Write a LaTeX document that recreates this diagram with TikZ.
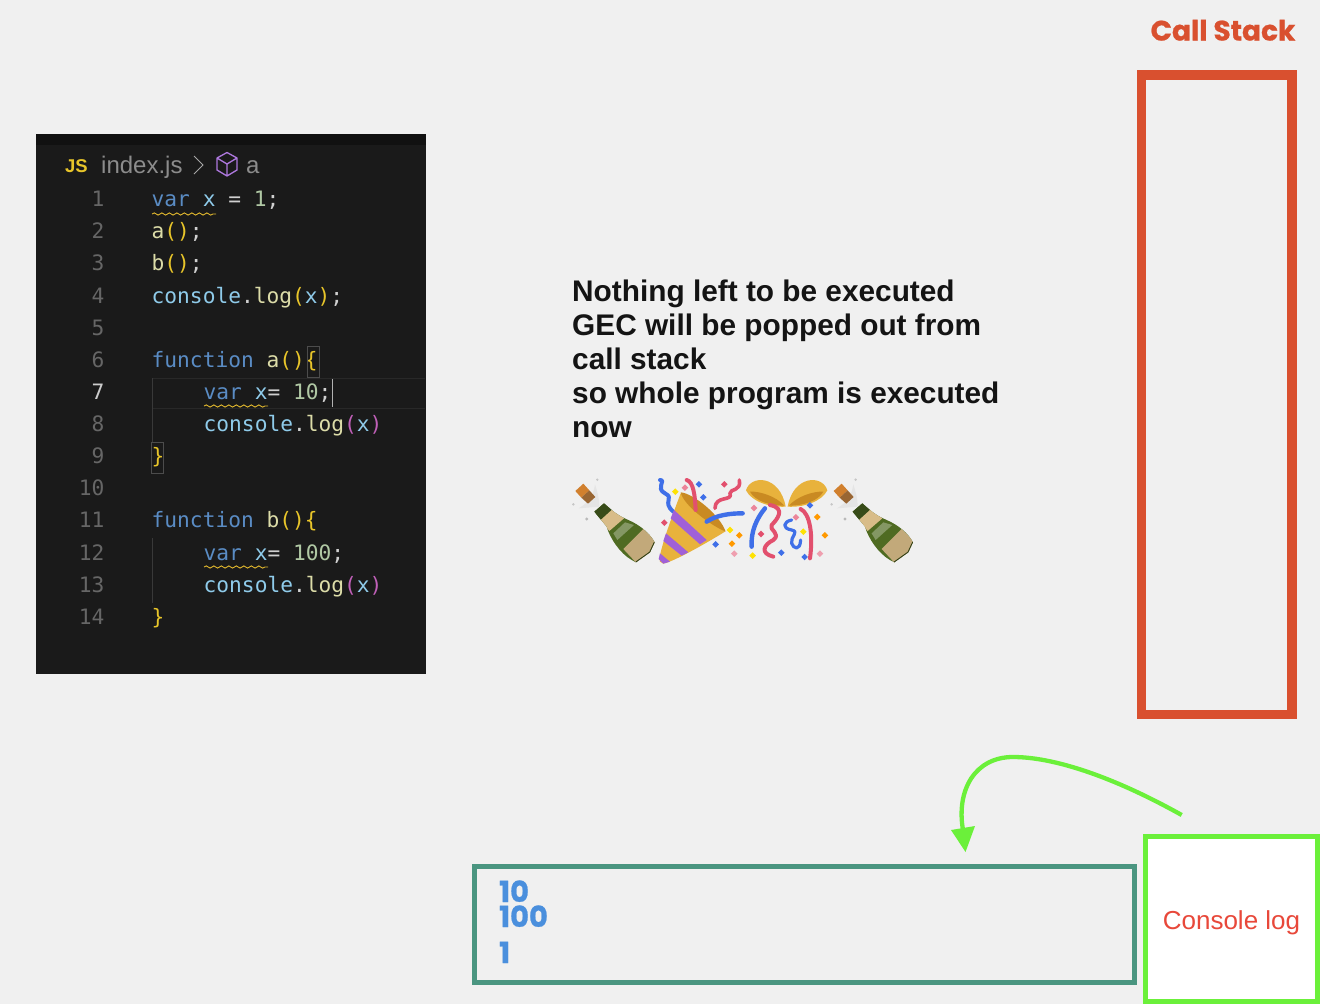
\documentclass[tikz,border=0pt]{standalone}
\usepackage{fontspec}
\setmainfont{Liberation Sans}
\newfontfamily\codefont{DejaVu Sans Mono}
\newfontfamily\roundfont[FakeBold=0.8]{Poppins}
\usetikzlibrary{arrows.meta,decorations.pathmorphing}
\definecolor{bgc}{HTML}{F0F0F0}
\definecolor{edc}{HTML}{1A1A1A}
\definecolor{topc}{HTML}{111111}
\definecolor{stackc}{HTML}{D9502F}
\definecolor{tealc}{HTML}{4A9580}
\definecolor{limec}{HTML}{6BF03A}
\definecolor{logc}{HTML}{E8483A}
\definecolor{numc}{HTML}{4A8FDD}
\definecolor{kw}{HTML}{5A8CC4}
\definecolor{vr}{HTML}{8FCBEA}
\definecolor{fn}{HTML}{DCDCA8}
\definecolor{lit}{HTML}{B0C8A4}
\definecolor{pun}{HTML}{D0D0D0}
\definecolor{brk}{HTML}{E8C52A}
\definecolor{brp}{HTML}{C060B8}
\definecolor{ln}{HTML}{666666}
\definecolor{gld}{HTML}{E8B23C}
\definecolor{gldd}{HTML}{C98A22}
\definecolor{pur}{HTML}{A060D8}
\definecolor{bl}{HTML}{3F6FE8}
\definecolor{rd}{HTML}{E2506E}
\definecolor{bgreen}{HTML}{4F6B22}
\definecolor{bbeige}{HTML}{D8BC88}
\newcommand{\kwd}[1]{\textcolor{kw}{#1}}
\newcommand{\vrb}[1]{\textcolor{vr}{#1}}
\newcommand{\fnc}[1]{\textcolor{fn}{#1}}
\newcommand{\ltr}[1]{\textcolor{lit}{#1}}
\newcommand{\pnc}[1]{\textcolor{pun}{#1}}
\newcommand{\brc}[1]{\textcolor{brk}{#1}}
\newcommand{\brq}[1]{\textcolor{brp}{#1}}
\newcommand{\bottleart}[1]{%
 \begin{scope}[shift={(#1,0)}]
  \fill[gray!45] (112,44) circle (4);
  \fill[gray!55] (80,162) circle (5);
  \fill[gray!45] (40,118) circle (4);
  \fill[white!80!gray] (105,58) .. controls (100,90) and (90,110) .. (56,130) -- (118,125) .. controls (118,100) and (112,80) .. (105,58) -- cycle;
  \fill[brown!72!orange] (46,78) -- (70,56) -- (88,76) -- (64,98) -- cycle;
  \fill[brown!80!black] (64,98) -- (88,76) -- (106,96) -- (84,116) -- cycle;
  \begin{scope}
   \clip (103,140) -- (132,115) .. controls (155,135) and (170,150) .. (205,165) .. controls (240,180) and (270,205) .. (284,232) -- (270,262) -- (228,292) -- (215,285) .. controls (180,265) and (150,220) .. (140,185) .. controls (128,170) and (115,155) .. (103,140) -- cycle;
   \fill[bgreen] (90,100) rectangle (300,300);
   \fill[bgreen!70!black] (95,140) -- (135,105) -- (155,135) -- (122,165) -- cycle;
   \fill[bbeige] (122,165) -- (155,135) -- (192,160) -- (148,198) -- cycle;
   \fill[bgreen!70!white] (195,172) -- (222,180) -- (172,225) -- (160,205) -- cycle;
   \fill[bbeige!90!black] (190,252) -- (250,192) -- (295,235) -- (235,300) -- cycle;
   \draw[bgreen!55!black,line width=1.6pt] (284,232) -- (270,262) -- (228,292);
  \end{scope}
 \end{scope}}
\newcommand{\confetti}[3]{\fill[#3] (#1,#2-10) -- (#1+10,#2) -- (#1,#2+10) -- (#1-10,#2) -- cycle;}
\tikzset{
 code/.style={anchor=base west,inner sep=0pt,font=\codefont\fontsize{21.2}{24}\selectfont},
 lineno/.style={anchor=base east,inner sep=0pt,text=ln,font=\codefont\fontsize{21.2}{24}\selectfont},
 squig/.style={draw=brk!80!brown,line width=0.9pt,decorate,decoration={snake,amplitude=1.1pt,segment length=7.5pt}},
 guide/.style={draw=gray!45!black,line width=0.8pt},
 matchbox/.style={draw=gray!60!black,line width=0.8pt},
 outnum/.style={anchor=base west,inner sep=0pt,text=numc,font=\roundfont\bfseries\fontsize{29}{30}\selectfont},
 ribbon/.style={line width=#1,line cap=round,line join=round},
}
\begin{document}
\begin{tikzpicture}[x=1pt,y=-1pt]
\useasboundingbox (0,0) rectangle (1320,1004);
\fill[bgc] (0,0) rectangle (1320,1004);
% editor
\fill[edc] (36,134) rectangle (425.5,673.5);
\fill[topc] (36,134) rectangle (425.5,145);
\draw[edc!94!white,line width=0.8pt] (152,378) -- (425,378) (152,408) -- (425,408);
% breadcrumb
\node[anchor=base west,inner sep=0pt,text=brk,font=\bfseries\fontsize{18.5}{22}\selectfont] (js) at (65,172) {JS};
\node[anchor=base west,inner sep=0pt,text=gray!90,font=\fontsize{24}{26}\selectfont] (crumb) at (101,173) {index.js};
\draw[gray!70,line width=1pt] (194,156) -- (203,165) -- (194,174);
\draw[pur!85!white,line width=1.3pt,line join=round] (227,152.5) -- (237,158) -- (237,170) -- (227,176) -- (217,170) -- (217,158) -- cycle (217,158) -- (227,164) -- (237,158) (227,164) -- (227,176);
\node[anchor=base west,inner sep=0pt,text=gray!90,font=\fontsize{24}{26}\selectfont] (crumba) at (246,173) {a};
% line numbers
\foreach \n/\y in {1/206.5,2/238.5,3/270.5,4/303,5/335,6/367.5,8/431.5,9/463.5,10/495.5,11/527.5,12/560.5,13/592.5,14/624.5}
  \node[lineno] (n\n) at (104.5,\y) {\n};
\node[lineno,text=gray!40] (n7) at (104.5,399.5) {7};
% code
\node[code] (c1) at (151.5,206.5) {\kwd{var} \vrb{x} \pnc{=} \ltr{1}\pnc{;}};
\node[code] (c2) at (151.5,238.5) {\fnc{a}\brc{()}\pnc{;}};
\node[code] (c3) at (151.5,270.5) {\fnc{b}\brc{()}\pnc{;}};
\node[code] (c4) at (151.5,303) {\vrb{console}\pnc{.}\fnc{log}\brc{(}\vrb{x}\brc{)}\pnc{;}};
\node[code] (c6) at (151.5,367.5) {\kwd{function} \fnc{a}\brc{()\{}};
\node[code] (c7) at (203.5,399.5) {\kwd{var} \vrb{x}\pnc{=} \ltr{10}\pnc{;}};
\node[code] (c8) at (203.5,431.5) {\vrb{console}\pnc{.}\fnc{log}\brq{(}\vrb{x}\brq{)}};
\node[code] (c9) at (151.5,463.5) {\brc{\}}};
\node[code] (c11) at (151.5,527.5) {\kwd{function} \fnc{b}\brc{()\{}};
\node[code] (c12) at (203.5,560) {\kwd{var} \vrb{x}\pnc{=} \ltr{100}\pnc{;}};
\node[code] (c13) at (203.5,592) {\vrb{console}\pnc{.}\fnc{log}\brq{(}\vrb{x}\brq{)}};
\node[code] (c14) at (151.5,624.5) {\brc{\}}};
\draw[squig] (152,214) -- (216,214);
\draw[squig] (204,406) -- (268,406);
\draw[squig] (204,567) -- (268,567);
\draw[guide] (152,378) -- (152,442) (152,538) -- (152,603);
\draw[matchbox] (307,346.5) rectangle (319,377.5);
\draw[matchbox] (151.5,442) rectangle (163,473);
\draw[gray!60,line width=1.2pt] (332.5,379) -- (332.5,407);
% message
\node[anchor=north west,inner sep=0pt,align=left,text=black!92,font=\bfseries\fontsize{29.8}{34}\selectfont] (msg) at (572,280) {Nothing left to be executed\\GEC will be popped out from\\call stack\\so whole program is executed\\now};
% emoji artwork
\begin{scope}[shift={(560,465)},x=0.3333pt,y=-0.3333pt]
 \bottleart{0}
 \bottleart{775}
 % popper streamers behind
 \draw[bl,ribbon=4pt] (300,45) .. controls (320,45) and (285,70) .. (315,85) .. controls (345,100) and (305,110) .. (340,140);
 \draw[rd,ribbon=3.6pt] (465,130) .. controls (465,90) and (520,110) .. (510,85) .. controls (510,70) and (545,80) .. (538,45);
 % cone
 \fill[gld] (300,290) .. controls (292,275) and (330,170) .. (362,85) -- (495,200) .. controls (430,240) and (340,290) .. (310,296) -- cycle;
 \fill[pur] (342,135) -- (440,225) -- (420,238) -- (332,160) -- cycle;
 \fill[pur] (318,205) -- (385,262) -- (365,272) -- (310,228) -- cycle;
 \fill[pur] (300,265) -- (330,290) -- (310,296) -- (296,282) -- cycle;
 \fill[gldd] (362,82) .. controls (400,85) and (480,150) .. (497,200) .. controls (450,180) and (370,120) .. (362,82) -- cycle;
 \draw[rd,ribbon=4pt] (380,45) .. controls (400,50) and (405,90) .. (407,135);
 \draw[bl,ribbon=4.4pt] (440,170) .. controls (470,150) and (510,145) .. (548,145);
 % bells
 \fill[gld] (558,76) .. controls (572,28) and (660,30) .. (677,125) .. controls (630,128) and (575,110) .. (558,76) -- cycle;
 \fill[gldd] (570,80) .. controls (600,78) and (650,95) .. (673,122) .. controls (630,122) and (585,108) .. (570,80) -- cycle;
 \fill[gld] (802,76) .. controls (788,28) and (700,30) .. (683,125) .. controls (730,128) and (785,110) .. (802,76) -- cycle;
 \fill[gldd] (790,80) .. controls (760,78) and (710,95) .. (687,122) .. controls (730,122) and (775,108) .. (790,80) -- cycle;
 % ribbons
 \draw[bl,ribbon=4.4pt] (615,130) .. controls (590,160) and (572,200) .. (575,245);
 \draw[rd,ribbon=4pt] (630,120) .. controls (680,130) and (650,165) .. (635,180) .. controls (625,195) and (665,205) .. (640,225) .. controls (610,240) and (600,265) .. (640,275);
 \draw[bl,ribbon=3.2pt] (695,165) .. controls (670,170) and (665,190) .. (695,195) .. controls (720,200) and (690,215) .. (695,235) .. controls (700,250) and (720,260) .. (722,225);
 \draw[rd,ribbon=4pt] (722,132) .. controls (750,145) and (760,210) .. (750,280);
 % confetti
 \confetti{417}{58}{bl}
 \confetti{346}{80}{yellow!85!orange}
 \confetti{375}{68}{rd!70!white}
 \confetti{430}{97}{bl}
 \confetti{493}{58}{rd}
 \confetti{313}{173}{rd}
 \confetti{510}{195}{yellow!85!orange}
 \confetti{538}{211}{orange!80!yellow}
 \confetti{516}{236}{orange!80!yellow}
 \confetti{467}{238}{bl}
 \confetti{523}{266}{rd!55!white}
 \confetti{582}{129}{rd!70!white}
 \confetti{603}{207}{rd}
 \confetti{578}{272}{yellow!85!orange}
 \confetti{664}{263}{bl}
 \confetti{708}{157}{rd!70!white}
 \confetti{730}{200}{yellow!85!orange}
 \confetti{750}{121}{bl}
 \confetti{772}{156}{orange!80!yellow}
 \confetti{795}{211}{orange!80!yellow}
 \confetti{734}{276}{bl}
 \confetti{780}{266}{rd!55!white}
\end{scope}
% call stack
\node[anchor=base,inner sep=0pt,text=stackc,font=\roundfont\bfseries\fontsize{28}{30}\selectfont] (stacklabel) at (1223,40.5) {Call Stack};
\node[draw=stackc,line width=9.5pt,minimum width=150.5pt,minimum height=639.5pt,inner sep=0pt,outer sep=0pt] (stack) at (1216.8,394.5) {};
% console output
\node[draw=tealc,line width=5pt,minimum width=660pt,minimum height=116pt,inner sep=0pt,outer sep=0pt] (output) at (804.5,924) {};
\node[outnum] (o1) at (499,902) {10};
\node[outnum] (o2) at (499,927) {100};
\node[outnum] (o3) at (499,963) {1};
% console log box
\node[draw=limec,fill=white,line width=5pt,minimum width=172pt,minimum height=165pt,inner sep=0pt,outer sep=0pt] (consolelog) at (1231.5,919) {};
\node[anchor=base,inner sep=0pt,text=logc,font=\fontsize{26}{28}\selectfont] (consoletext) at (1231.5,929) {Console log};
% arrow
\coordinate (arrstart) at (1181.7,815);
\coordinate (arrtop) at (1013,757);
\coordinate (arrend) at (965.5,852);
\draw[limec,line width=4.3pt] (arrstart) .. controls (1110,775) and (1052,757) .. (arrtop) .. controls (975,757) and (956,790) .. (963,830);
\fill[limec] (arrend) -- (951,830) -- (975,826) -- cycle;
\end{tikzpicture}
\end{document}
